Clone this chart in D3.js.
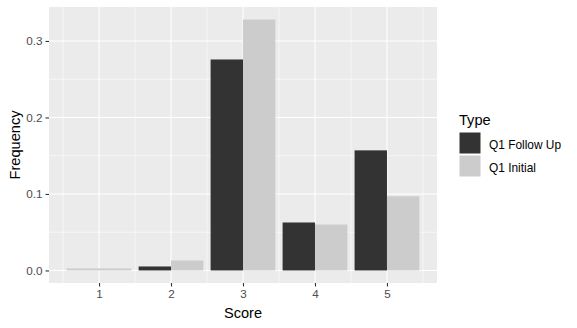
<!DOCTYPE html>
<html>
<head>
<meta charset="utf-8">
<script src="https://cdn.jsdelivr.net/npm/d3@7"></script>
<style>
  body { margin: 0; background: #fff; }
  text { font-family: "Liberation Sans", Arial, sans-serif; }
</style>
</head>
<body>
<svg width="577" height="328"></svg>
<script>
// data
var scores = [1, 2, 3, 4, 5];
var types = ['Q1 Follow Up', 'Q1 Initial'];
var followUp = [null, 0.0052, 0.2758, 0.0627, 0.157];
var initial = [0.0026, 0.013, 0.328, 0.060, 0.097];
var yTicks = [0, 0.1, 0.2, 0.3];
var yMinor = [0.05, 0.15, 0.25];
var xMinor = [0.5, 1.5, 2.5, 3.5, 4.5, 5.5];
var colors = ['#333333', '#cccccc'];

var svg = d3.select('svg');

// panel box
var panel = { left: 49, top: 7, right: 437, bottom: 283 };

// ggplot style: bars are 0.9 wide, 5% expansion on each side
var xLo = d3.min(scores) - 0.45, xHi = d3.max(scores) + 0.45;
var xPad = (xHi - xLo) * 0.05;
var x = d3.scaleLinear()
  .domain([xLo - xPad, xHi + xPad])
  .range([panel.left, panel.right]);

var yMax = d3.max(followUp.concat(initial));
var yPad = yMax * 0.05;
var y = d3.scaleLinear()
  .domain([-yPad, yMax + yPad])
  .range([panel.bottom, panel.top]);

// grey panel
svg.append('rect')
  .attr('x', panel.left).attr('y', panel.top)
  .attr('width', panel.right - panel.left)
  .attr('height', panel.bottom - panel.top)
  .attr('fill', '#ebebeb');

// minor grid
var g = svg.append('g');
yMinor.forEach(function(d) {
  g.append('line')
    .attr('x1', panel.left).attr('x2', panel.right)
    .attr('y1', y(d)).attr('y2', y(d))
    .attr('stroke', '#fff').attr('stroke-width', 0.55);
});
xMinor.forEach(function(d) {
  g.append('line')
    .attr('x1', x(d)).attr('x2', x(d))
    .attr('y1', panel.top).attr('y2', panel.bottom)
    .attr('stroke', '#fff').attr('stroke-width', 0.55);
});
// major grid
yTicks.forEach(function(d) {
  g.append('line')
    .attr('x1', panel.left).attr('x2', panel.right)
    .attr('y1', y(d)).attr('y2', y(d))
    .attr('stroke', '#fff').attr('stroke-width', 1.1);
});
scores.forEach(function(d) {
  g.append('line')
    .attr('x1', x(d)).attr('x2', x(d))
    .attr('y1', panel.top).attr('y2', panel.bottom)
    .attr('stroke', '#fff').attr('stroke-width', 1.1);
});

// bars, dodged; a score with only one value takes the full width
var series = [followUp, initial];
scores.forEach(function(s, i) {
  var present = [];
  series.forEach(function(arr, k) {
    if (arr[i] != null) present.push(k);
  });
  var w = 0.9 / present.length;
  present.forEach(function(k, j) {
    var left = s - 0.45 + j * w;
    var v = series[k][i];
    svg.append('rect')
      .attr('x', x(left))
      .attr('width', x(left + w) - x(left))
      .attr('y', y(v))
      .attr('height', y(0) - y(v))
      .attr('fill', colors[k]);
  });
});

// axes
var yAxis = d3.axisLeft(y).tickValues(yTicks).tickSize(3.5).tickPadding(3)
  .tickFormat(d3.format('.1f'));
var ya = svg.append('g').attr('transform', 'translate(' + panel.left + ',0)').call(yAxis);
var xAxis = d3.axisBottom(x).tickValues(scores).tickSize(3.5).tickPadding(3)
  .tickFormat(d3.format('d'));
var xa = svg.append('g').attr('transform', 'translate(0,' + panel.bottom + ')').call(xAxis);

[ya, xa].forEach(function(a) {
  a.select('.domain').remove();
  a.selectAll('line').attr('stroke', '#333333').attr('stroke-width', 1.1);
  a.selectAll('text')
    .attr('fill', '#4d4d4d')
    .style('font-size', '11.7px')
    .style('font-family', '"Liberation Sans", Arial, sans-serif');
});

// axis titles
svg.append('text')
  .attr('x', (panel.left + panel.right) / 2)
  .attr('y', 318)
  .attr('text-anchor', 'middle')
  .style('font-size', '14.6px')
  .text('Score');

svg.append('text')
  .attr('transform', 'translate(20,' + ((panel.top + panel.bottom) / 2) + ') rotate(-90)')
  .attr('text-anchor', 'middle')
  .style('font-size', '14.6px')
  .text('Frequency');

// legend
var legend = svg.append('g').attr('transform', 'translate(459,0)');
legend.append('text')
  .attr('x', 0).attr('y', 125)
  .style('font-size', '14.6px')
  .text('Type');
types.forEach(function(t, i) {
  legend.append('rect')
    .attr('x', 0).attr('y', 132 + i * 23)
    .attr('width', 22).attr('height', 22)
    .attr('fill', colors[i])
    .attr('stroke', '#fff').attr('stroke-width', 1);
  legend.append('text')
    .attr('x', 30).attr('y', 145 + i * 23)
    .attr('dy', '0.35em')
    .style('font-size', '11.9px')
    .text(t);
});
</script>
</body>
</html>
